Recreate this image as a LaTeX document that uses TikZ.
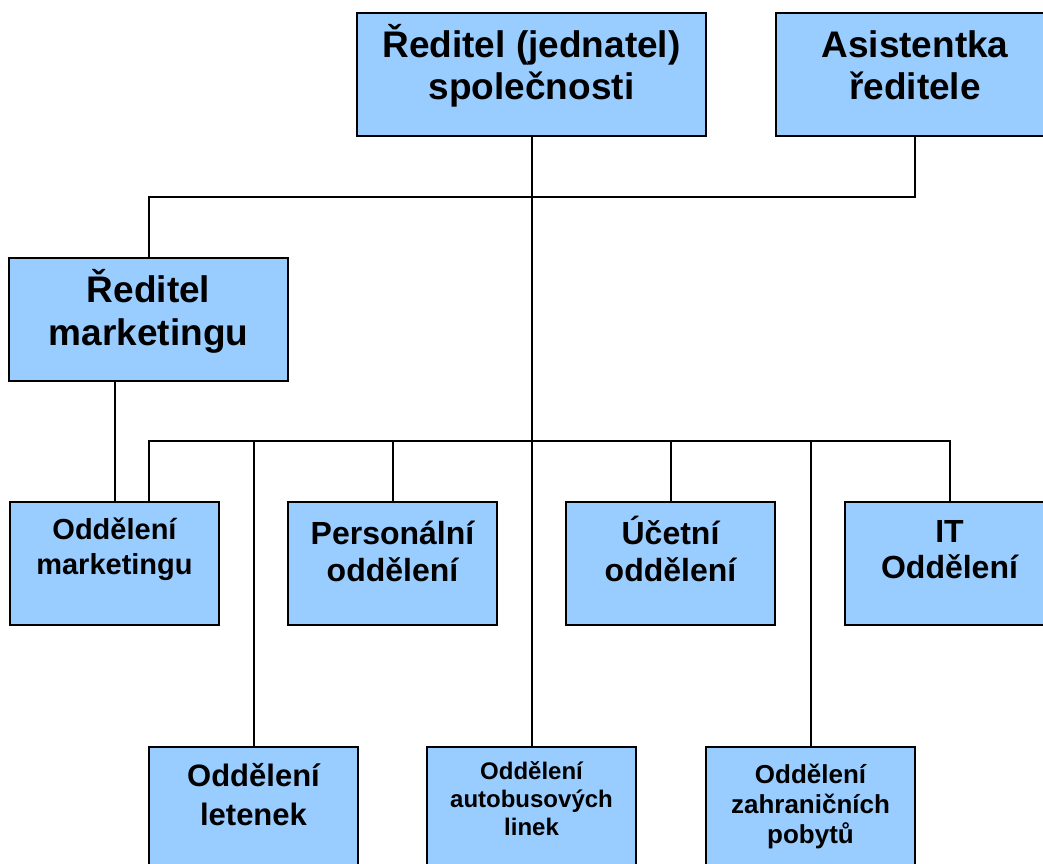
\documentclass[tikz,border=0pt]{standalone}
\usepackage{fontspec}
\setmainfont{Liberation Sans}
\definecolor{boxblue}{HTML}{99CCFF}
\begin{document}
\begin{tikzpicture}[x=1pt, y=-1pt,
		box/.style={draw, line width=2.4pt, fill=boxblue, inner sep=0pt, minimum height=123pt},
		txt/.style 2 args={align=center, inner sep=0pt, font=\bfseries\fontsize{#1}{#2}\selectfont},
		link/.style={line width=2pt}]
		\useasboundingbox (0,0) rectangle (1043,863);
		\node [box, minimum width=349pt] (dir) at (531.5,74.5) {};
		\node [box, minimum width=278pt] (asist) at (915,74.5) {};
		\node [box, minimum width=279pt] (mktdir) at (148.5,319.5) {};
		\foreach \x/\n in {114.5/omkt, 392.5/pers, 670.5/acc, 949.5/itd} {
			\node [box, minimum width=209pt] (\n) at (\x,563.5) {};
		};
		\foreach \x/\n in {253.5/ticket, 531.5/coach, 810.5/abroad} {
			\node [box, minimum width=209pt] (\n) at (\x,808.5) {};
		};
		\node [txt={37}{42}] (dir-t) at (531.5,66) {Ředitel (jednatel)\\společnosti};
		\node [txt={37}{42}] (asist-t) at (915,65) {Asistentka\\ředitele};
		\node [txt={37}{43}] (mktdir-t) at (148.5,311) {Ředitel\\marketingu};
		\node [txt={29}{35}] (omkt-t) at (114.5,549.5) {Oddělení\\marketingu};
		\node [txt={32}{37}] (pers-t) at (392.5,551) {Personální\\oddělení};
		\node [txt={32}{37}] (acc-t) at (670.5,549) {Účetní\\oddělení};
		\node [txt={32}{36}] (itd-t) at (949.5,550) {IT\\Oddělení};
		\node [txt={31}{39}] (ticket-t) at (253.5,795) {Oddělení\\letenek};
		\node [txt={24}{28}] (coach-t) at (531.5,799) {Oddělení\\autobusových\\linek};
		\node [txt={26}{30}] (abroad-t) at (810.5,806) {Oddělení\\zahraničních\\pobytů};
		\coordinate (topbar) at (531.5,197);
		\coordinate (lowbar) at (531.5,441);
		\draw [link] (dir) -- (coach);
		\draw [link] (mktdir.north) |- (topbar) -| (asist.south);
		\draw [link] (mktdir.south -| omkt.north) -- (omkt.north);
		\draw [link] ([xshift=34.5pt]omkt.north) |- (lowbar) -| (itd.north);
		\foreach \n in {pers, acc, ticket, abroad} {
			\draw [link] (\n.north) -- (\n.north |- lowbar);
		};
	\end{tikzpicture}
\end{document}
